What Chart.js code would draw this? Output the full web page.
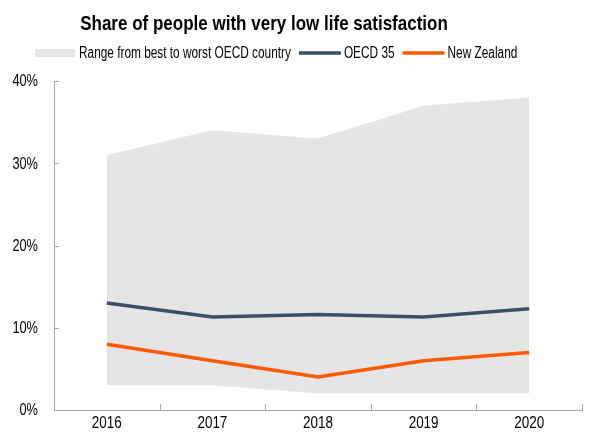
<!DOCTYPE html>
<html>
<head>
<meta charset="utf-8">
<title>Share of people with very low life satisfaction</title>
<script src="https://cdn.jsdelivr.net/npm/chart.js@4"></script>
<style>
  html, body { margin: 0; padding: 0; background: #fff; }
  #wrap { width: 590px; height: 434px; position: relative; }
</style>
</head>
<body>
<div id="wrap"><canvas id="chart"></canvas></div>
<script>
// Years on the x axis
const years = ['2016', '2017', '2018', '2019', '2020'];

// Share with very low life satisfaction, in %
const rangeHigh = [31, 34, 33, 37, 38];     // worst OECD country
const rangeLow = [3, 3, 2, 2, 2];           // best OECD country
const oecd35 = [13.0, 11.3, 11.6, 11.3, 12.3];
const newZealand = [8, 6, 4, 6, 7];

const yTicks = [0, 10, 20, 30, 40];

const FONT = "'Liberation Sans', Arial, sans-serif";
const AXIS_COLOR = '#a8a8a8';
const RANGE_COLOR = '#e5e5e5';
const OECD_COLOR = '#3a4f67';
const NZ_COLOR = '#ff5a00';

const titleText = 'Share of people with very low life satisfaction';
const legendItems = [
    { text: 'Range from best to worst OECD country', kind: 'box', color: RANGE_COLOR },
    { text: 'OECD 35', kind: 'line', color: OECD_COLOR },
    { text: 'New Zealand', kind: 'line', color: NZ_COLOR }
];

// No narrow font is installed, so text is squeezed horizontally
function narrowText(ctx, text, x, y, squeeze) {
    ctx.save();
    ctx.translate(x, y);
    ctx.scale(squeeze, 1);
    ctx.fillText(text, 0, 0);
    ctx.restore();
}

// Title and legend sit a little left of centre, so they are drawn here
const headerPlugin = {
    id: 'header',
    afterDraw(chart) {
        const ctx = chart.ctx;
        ctx.save();
        ctx.fillStyle = '#000';
        ctx.textBaseline = 'alphabetic';
        ctx.textAlign = 'center';
        ctx.font = 'bold 21px ' + FONT;
        narrowText(ctx, titleText, 264, 30, 0.81);

        const sq = 0.74;
        ctx.font = '16px ' + FONT;
        ctx.textAlign = 'left';
        ctx.textBaseline = 'middle';
        let x = 35;
        const y = 53;
        legendItems.forEach(item => {
            if (item.kind === 'box') {
                ctx.fillStyle = item.color;
                ctx.fillRect(x, y - 4, 40, 8);
                x += 44;
            } else {
                ctx.strokeStyle = item.color;
                ctx.lineWidth = 3.5;
                ctx.beginPath();
                ctx.moveTo(x, y);
                ctx.lineTo(x + 42, y);
                ctx.stroke();
                x += 45;
            }
            ctx.fillStyle = '#000';
            narrowText(ctx, item.text, x, y + 1, sq);
            x += ctx.measureText(item.text).width * sq + 8;
        });
        ctx.restore();
    }
};

// Tick labels (squeezed) and short tick marks pointing into the plot
const axisPlugin = {
    id: 'axisDecor',
    afterDraw(chart) {
        const ctx = chart.ctx;
        const xs = chart.scales.x;
        const ys = chart.scales.y;
        const area = chart.chartArea;
        ctx.save();
        ctx.strokeStyle = AXIS_COLOR;
        ctx.lineWidth = 1;
        ctx.beginPath();
        ys.ticks.forEach((t, i) => {
            const py = Math.round(ys.getPixelForTick(i)) + 0.5;
            ctx.moveTo(area.left, py);
            ctx.lineTo(area.left + 5, py);
        });
        const n = years.length;
        for (let i = 0; i <= n; i++) {
            let px;
            if (i === 0) px = area.left;
            else if (i === n) px = area.right;
            else px = (xs.getPixelForValue(i - 1) + xs.getPixelForValue(i)) / 2;
            px = Math.round(px) + 0.5;
            ctx.moveTo(px, area.bottom);
            ctx.lineTo(px, area.bottom - 6);
        }
        ctx.stroke();

        ctx.fillStyle = '#000';
        ctx.font = '16px ' + FONT;
        ctx.textBaseline = 'middle';
        ctx.textAlign = 'right';
        ys.ticks.forEach((t, i) => {
            narrowText(ctx, t.value + '%', area.left - 16, ys.getPixelForTick(i) + 1, 0.8);
        });
        ctx.textAlign = 'center';
        years.forEach((yr, i) => {
            narrowText(ctx, yr, xs.getPixelForValue(i), area.bottom + 14, 0.84);
        });
        ctx.restore();
    }
};

new Chart(document.getElementById('chart'), {
    type: 'line',
    data: {
        labels: years,
        datasets: [
            {
                label: 'New Zealand',
                data: newZealand,
                borderColor: NZ_COLOR,
                borderWidth: 3.5,
                pointRadius: 0,
                tension: 0,
                fill: false
            },
            {
                label: 'OECD 35',
                data: oecd35,
                borderColor: OECD_COLOR,
                borderWidth: 3.5,
                pointRadius: 0,
                tension: 0,
                fill: false
            },
            {
                label: 'Range from best to worst OECD country',
                data: rangeHigh,
                borderWidth: 0,
                borderColor: 'rgba(0,0,0,0)',
                backgroundColor: RANGE_COLOR,
                pointRadius: 0,
                tension: 0,
                fill: '+1'
            },
            {
                label: 'Best OECD country',
                data: rangeLow,
                borderWidth: 0,
                borderColor: 'rgba(0,0,0,0)',
                pointRadius: 0,
                tension: 0,
                fill: false
            }
        ]
    },
    options: {
        responsive: true,
        maintainAspectRatio: false,
        animation: false,
        layout: {
            padding: { top: 81, right: 8, bottom: 0, left: 13 }
        },
        scales: {
            x: {
                offset: true,
                grid: { display: false, drawTicks: false },
                border: { display: true, color: AXIS_COLOR, width: 1 },
                ticks: { display: false },
                afterFit(scale) { scale.height = 24; }
            },
            y: {
                min: 0,
                max: 40,
                afterBuildTicks(scale) {
                    scale.ticks = yTicks.map(v => ({ value: v }));
                },
                grid: { display: false, drawTicks: false },
                border: { display: true, color: AXIS_COLOR, width: 1 },
                ticks: { display: false },
                afterFit(scale) { scale.width = 41; }
            }
        },
        plugins: {
            legend: { display: false },
            title: { display: false },
            tooltip: { enabled: false },
            filler: { drawTime: 'beforeDatasetsDraw' }
        }
    },
    plugins: [headerPlugin, axisPlugin]
});
</script>
</body>
</html>
